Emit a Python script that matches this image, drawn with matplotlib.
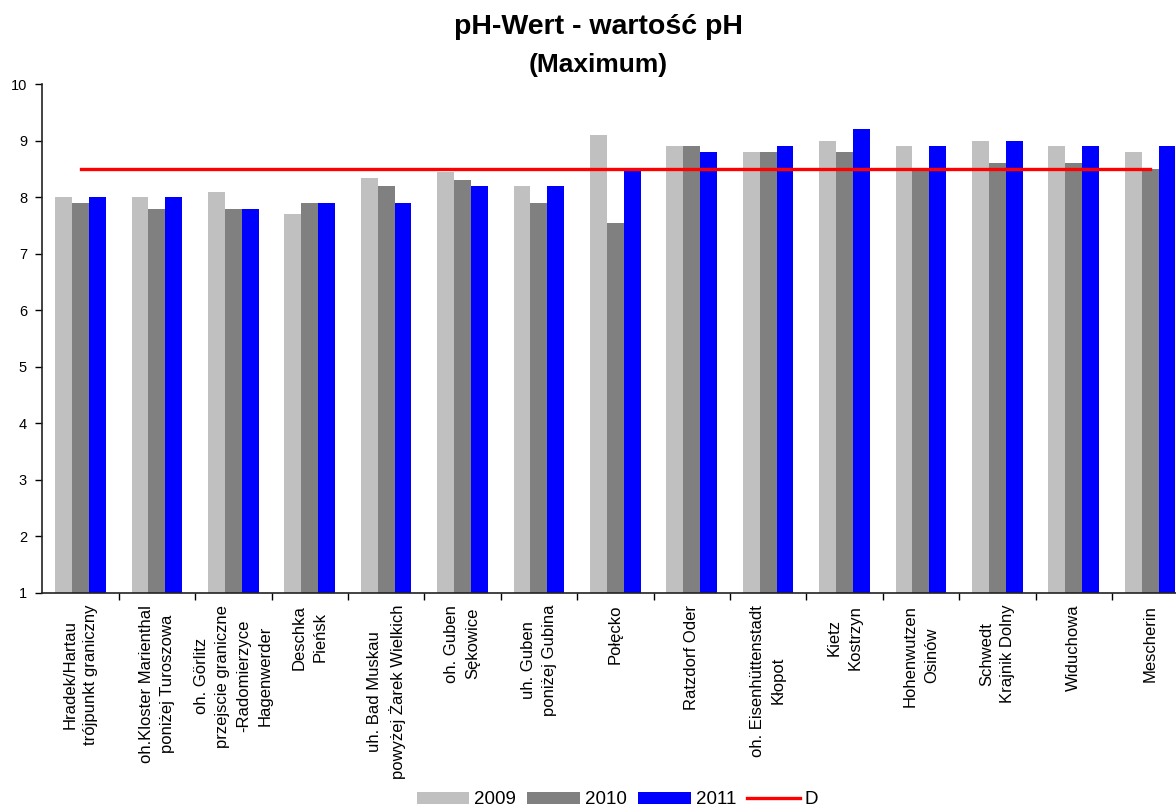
import numpy as np
import matplotlib
matplotlib.use("Agg")
import matplotlib.pyplot as plt

plt.rcParams['font.family'] = ['Liberation Sans', 'DejaVu Sans']

# data
stations = [
    "Hradek/Hartau\ntrójpunkt graniczny",
    "oh.Kloster Marienthal\nponiżej Turoszowa",
    "oh. Görlitz\nprzejscie graniczne\n-Radomierzyce\nHagenwerder",
    "Deschka\nPieńsk",
    "uh. Bad Muskau\npowyżej Żarek Wielkich",
    "oh. Guben\nSękowice",
    "uh. Guben\nponiżej Gubina",
    "Połęcko",
    "Ratzdorf Oder",
    "oh. Eisenhüttenstadt\nKłopot",
    "Kietz\nKostrzyn",
    "Hohenwutzen\nOsinów",
    "Schwedt\nKrajnik Dolny",
    "Widuchowa",
    "Mescherin",
]
ph_2009 = [8.0, 8.0, 8.1, 7.7, 8.35, 8.45, 8.2, 9.1, 8.9, 8.8, 9.0, 8.9, 9.0, 8.9, 8.8]
ph_2010 = [7.9, 7.8, 7.8, 7.9, 8.2, 8.3, 7.9, 7.55, 8.9, 8.8, 8.8, 8.5, 8.6, 8.6, 8.5]
ph_2011 = [8.0, 8.0, 7.8, 7.9, 7.9, 8.2, 8.2, 8.5, 8.8, 8.9, 9.2, 8.9, 9.0, 8.9, 8.9]
limit_d = [8.5] * len(stations)

years = ["2009", "2010", "2011"]
colors = ["#C0C0C0", "#808080", "#0000FF"]

fig = plt.figure(figsize=(11.76, 8.10), dpi=100)
# axes extends a bit past the right edge (cropped like the original)
ax = fig.add_axes([42.3 / 1176, 1 - 592.7 / 810, 1146 / 1176, (592.7 - 84.3) / 810])

x = np.arange(len(stations))
w = 0.221
for i, (vals, c, lab) in enumerate(zip([ph_2009, ph_2010, ph_2011], colors, years)):
    ax.bar(x + (i - 1) * w, vals, width=w, color=c, label=lab, zorder=2)

ax.plot(x, limit_d, color="#FF0000", lw=2.4, label="D", zorder=3)

ax.set_xlim(-0.5, len(stations) - 0.5)
ax.set_ylim(1, 10)
ax.set_yticks(range(1, 11))
ax.tick_params(axis='y', length=5, width=1, pad=6, labelsize=10.5, direction='out')

ax.set_xticks(x)
ax.set_xticklabels(stations, rotation=90, ha='center', va='top',
                   multialignment='center', linespacing=1.5, fontsize=12)
ax.tick_params(axis='x', which='major', length=0, pad=8.6)
ax.set_xticks(np.arange(0.5, len(stations) - 0.5, 1), minor=True)
ax.tick_params(axis='x', which='minor', length=5, width=1, direction='out')

for s in ['top', 'right']:
    ax.spines[s].set_visible(False)
for s in ['left', 'bottom']:
    ax.spines[s].set_linewidth(1.2)
    ax.spines[s].set_color('#222222')

fig.text(0.509, 1 - 27 / 810, "pH-Wert - wartość pH", ha='center', va='center',
         fontsize=20.5, fontweight='bold')
fig.text(0.509, 1 - 65 / 810, "(Maximum)", ha='center', va='center',
         fontsize=19, fontweight='bold')

handles, labels = ax.get_legend_handles_labels()
# bars first, then the line
order = [1, 2, 3, 0]
fig.legend([handles[k] for k in order], [labels[k] for k in order],
           loc='center', bbox_to_anchor=(617.5 / 1176, 10 / 810), ncol=4,
           frameon=False, fontsize=13.5, handlelength=2.8, handleheight=0.65,
           handletextpad=0.27, columnspacing=0.6, borderpad=0)

fig.savefig("out.png", dpi=100)
